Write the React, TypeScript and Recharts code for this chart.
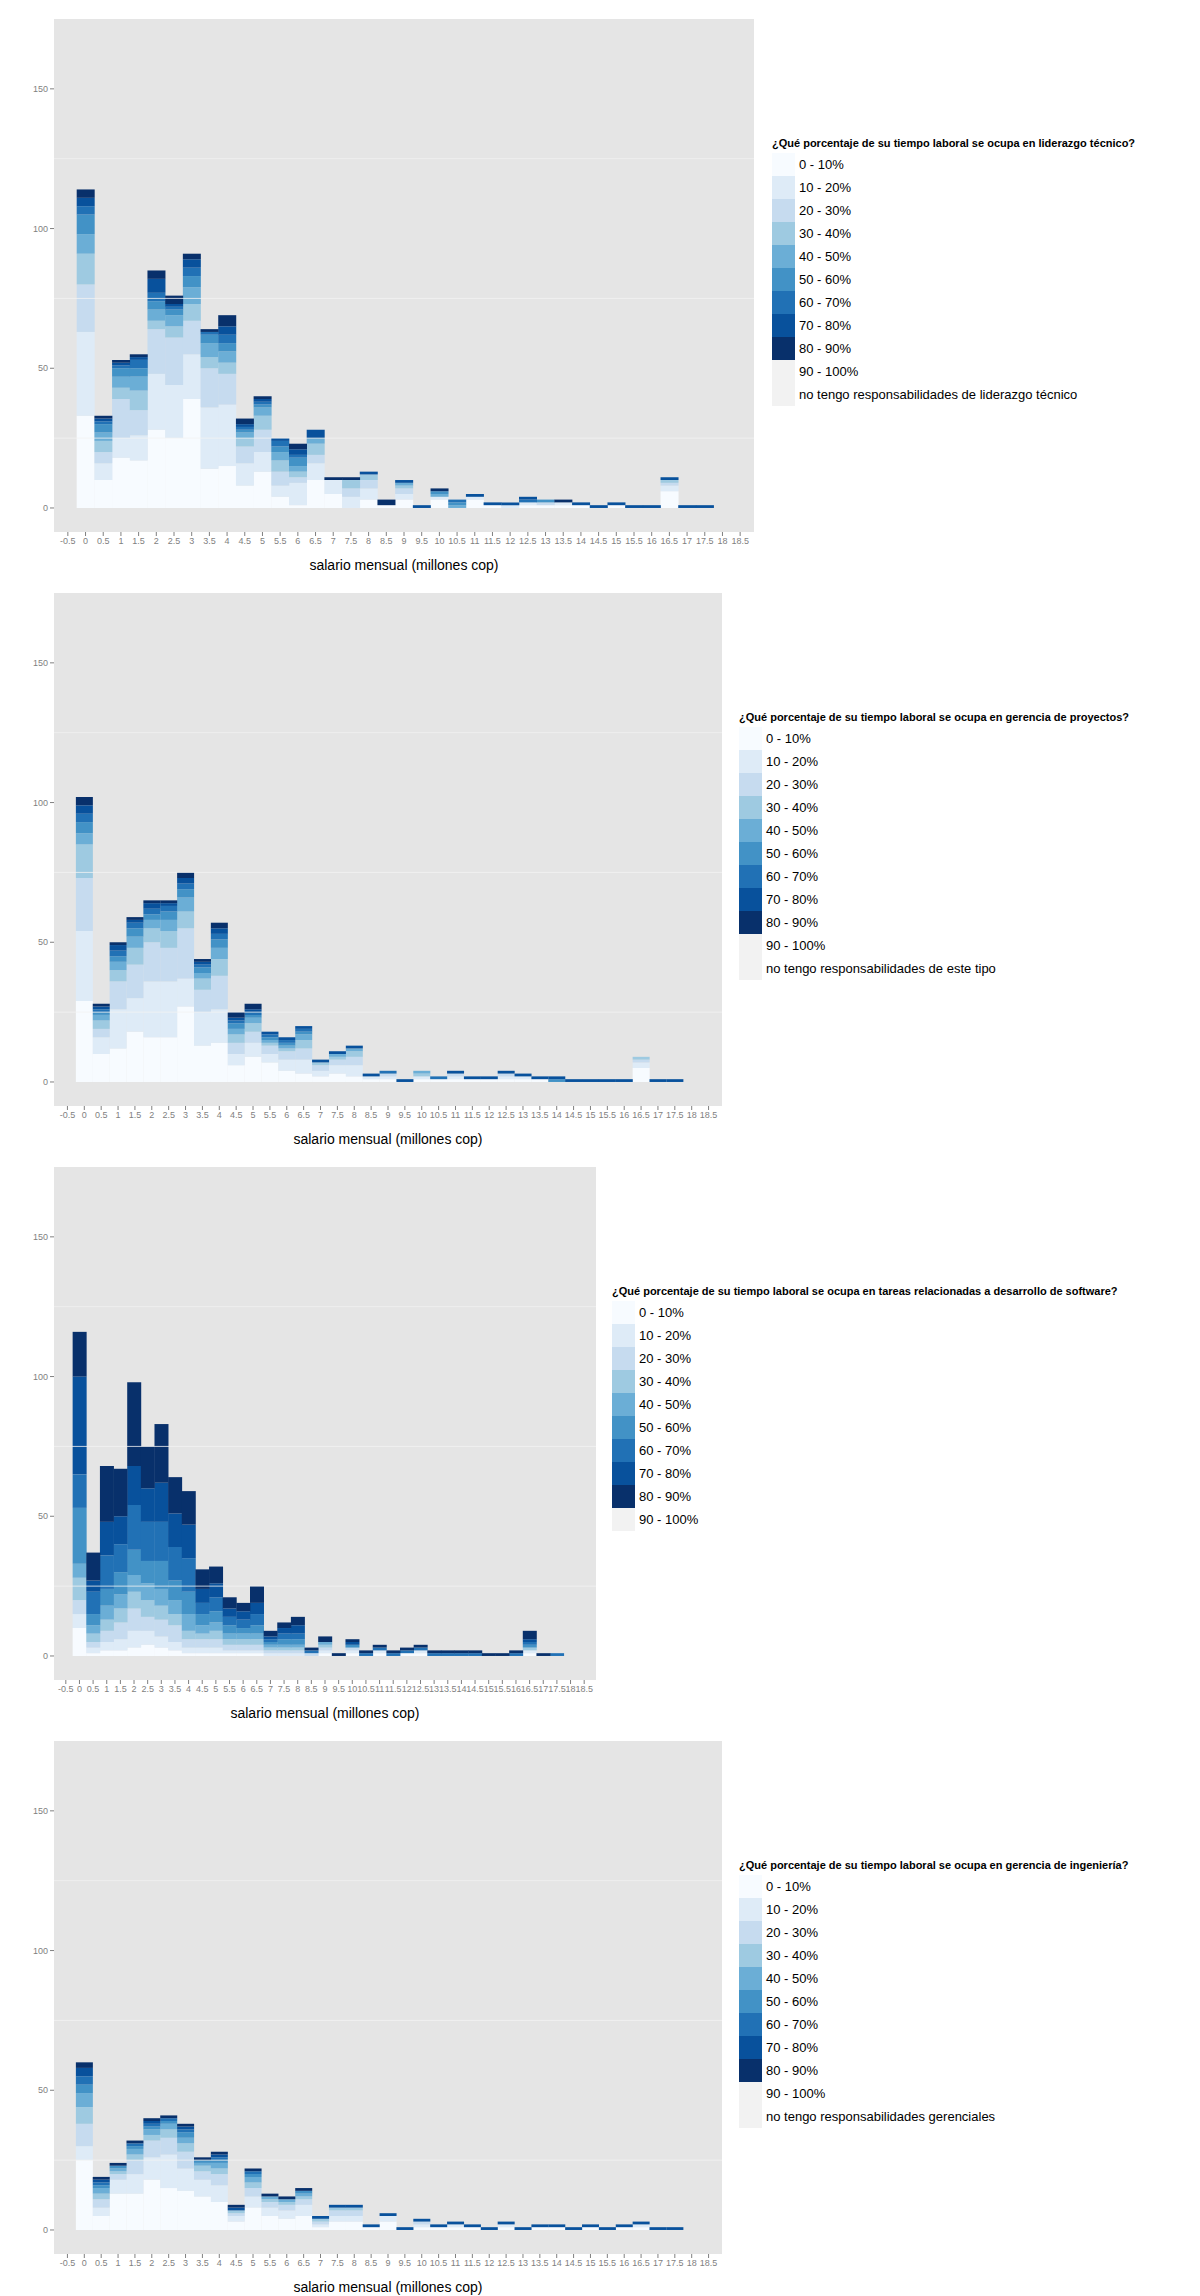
import React from "react";
import { BarChart, Bar, XAxis, YAxis, CartesianGrid, ReferenceLine } from "recharts";

const salaryBins = [
  "-0.5", "0", "0.5", "1", "1.5", "2", "2.5", "3", "3.5", "4", "4.5", "5", "5.5", "6", "6.5", "7", "7.5",
  "8", "8.5", "9", "9.5", "10", "10.5", "11", "11.5", "12", "12.5", "13", "13.5", "14", "14.5", "15",
  "15.5", "16", "16.5", "17", "17.5", "18", "18.5",
];

const levels = ["0 - 10%", "10 - 20%", "20 - 30%", "30 - 40%", "40 - 50%", "50 - 60%", "60 - 70%", "70 - 80%", "80 - 90%", "90 - 100%"];
const blues = ["#F7FBFF", "#DEEBF7", "#C6DBEF", "#9ECAE1", "#6BAED6", "#4292C6", "#2171B5", "#08519C", "#08306B", "#F2F2F2"];

// counts per salary bin, stacked by level (0-10% ... 80-90%)
const liderazgo: Record<string, number[]> = {
  "0": [33, 30, 17, 11, 7, 7, 3, 3, 3],
  "0.5": [10, 6, 4, 4, 3, 3, 1, 1, 1],
  "1": [18, 7, 14, 4, 4, 3, 1, 1, 1],
  "1.5": [17, 9, 9, 7, 5, 3, 3, 1, 1],
  "2": [28, 20, 16, 3, 4, 3, 3, 5, 3],
  "2.5": [25, 19, 17, 4, 4, 2, 1, 1, 3],
  "3": [39, 16, 12, 6, 6, 4, 3, 3, 2],
  "3.5": [14, 22, 14, 4, 5, 3, 1, 0, 1],
  "4": [15, 22, 11, 4, 4, 3, 3, 3, 4],
  "4.5": [8, 8, 6, 3, 2, 1, 1, 1, 2],
  "5": [13, 7, 8, 5, 3, 1, 1, 1, 1],
  "5.5": [4, 4, 5, 4, 3, 2, 2, 1, 0],
  "6": [1, 8, 2, 2, 2, 3, 1, 2, 2],
  "6.5": [10, 6, 3, 4, 2, 0, 0, 3, 0],
  "7": [5, 5, 0, 0, 0, 0, 0, 0, 1],
  "7.5": [0, 4, 3, 3, 0, 0, 0, 0, 1],
  "8": [3, 4, 3, 2, 0, 0, 0, 1, 0],
  "8.5": [1, 0, 0, 0, 0, 0, 0, 0, 2],
  "9": [3, 2, 2, 1, 1, 0, 0, 1, 0],
  "9.5": [0, 0, 0, 0, 0, 0, 0, 1, 0],
  "10": [3, 1, 0, 0, 1, 1, 0, 0, 1],
  "10.5": [0, 0, 0, 0, 1, 1, 1, 0, 0],
  "11": [3, 1, 0, 0, 0, 0, 0, 1, 0],
  "11.5": [1, 0, 0, 0, 0, 0, 0, 1, 0],
  "12": [0, 1, 0, 0, 0, 0, 0, 1, 0],
  "12.5": [1, 1, 0, 0, 0, 0, 1, 1, 0],
  "13": [1, 0, 1, 0, 0, 1, 0, 0, 0],
  "13.5": [1, 1, 0, 0, 0, 0, 0, 0, 1],
  "14": [1, 0, 0, 0, 0, 0, 0, 1, 0],
  "14.5": [0, 0, 0, 0, 0, 0, 0, 1, 0],
  "15": [1, 0, 0, 0, 0, 0, 0, 1, 0],
  "15.5": [0, 0, 0, 0, 0, 0, 0, 1, 0],
  "16": [0, 0, 0, 0, 0, 0, 0, 1, 0],
  "16.5": [6, 2, 1, 1, 0, 0, 0, 1, 0],
  "17": [0, 0, 0, 0, 0, 0, 0, 1, 0],
  "17.5": [0, 0, 0, 0, 0, 0, 0, 1, 0],
};

const proyectos: Record<string, number[]> = {
  "0": [29, 25, 19, 12, 4, 4, 3, 3, 3],
  "0.5": [10, 6, 3, 3, 2, 1, 1, 1, 1],
  "1": [12, 14, 10, 4, 3, 2, 2, 2, 1],
  "1.5": [18, 12, 12, 6, 4, 3, 2, 1, 1],
  "2": [16, 20, 14, 5, 3, 2, 2, 2, 1],
  "2.5": [16, 20, 12, 6, 4, 3, 2, 1, 1],
  "3": [27, 10, 18, 6, 5, 3, 2, 2, 2],
  "3.5": [13, 12, 8, 4, 2, 2, 1, 1, 1],
  "4": [14, 12, 12, 6, 4, 3, 2, 2, 2],
  "4.5": [6, 4, 4, 3, 2, 2, 1, 1, 2],
  "5": [9, 5, 4, 3, 2, 1, 1, 1, 2],
  "5.5": [7, 3, 3, 1, 1, 1, 1, 1, 0],
  "6": [4, 4, 3, 1, 1, 1, 1, 1, 0],
  "6.5": [3, 5, 4, 3, 2, 1, 1, 1, 0],
  "7": [2, 2, 2, 1, 0, 0, 0, 1, 0],
  "7.5": [3, 3, 2, 1, 1, 0, 0, 1, 0],
  "8": [2, 4, 3, 2, 1, 0, 0, 1, 0],
  "8.5": [1, 1, 0, 0, 0, 0, 0, 1, 0],
  "9": [1, 1, 1, 0, 0, 0, 1, 0, 0],
  "9.5": [0, 0, 0, 0, 0, 0, 0, 1, 0],
  "10": [1, 1, 0, 1, 1, 0, 0, 0, 0],
  "10.5": [1, 0, 0, 0, 0, 0, 1, 0, 0],
  "11": [1, 1, 1, 0, 0, 0, 0, 1, 0],
  "11.5": [1, 0, 0, 0, 0, 0, 0, 1, 0],
  "12": [1, 0, 0, 0, 0, 0, 0, 1, 0],
  "12.5": [1, 1, 1, 0, 0, 0, 0, 1, 0],
  "13": [1, 1, 0, 0, 0, 0, 0, 1, 0],
  "13.5": [1, 0, 0, 0, 0, 0, 0, 1, 0],
  "14": [0, 0, 0, 0, 0, 1, 0, 1, 0],
  "14.5": [0, 0, 0, 0, 0, 0, 0, 1, 0],
  "15": [0, 0, 0, 0, 0, 0, 0, 1, 0],
  "15.5": [0, 0, 0, 0, 0, 0, 0, 1, 0],
  "16": [0, 0, 0, 0, 0, 0, 0, 1, 0],
  "16.5": [5, 2, 1, 1, 0, 0, 0, 0, 0],
  "17": [0, 0, 0, 0, 0, 0, 0, 1, 0],
  "17.5": [0, 0, 0, 0, 0, 0, 0, 1, 0],
};

const software: Record<string, number[]> = {
  "0": [10, 5, 5, 8, 5, 20, 12, 35, 16],
  "0.5": [1, 2, 2, 3, 3, 4, 8, 4, 10],
  "1": [2, 3, 4, 4, 5, 6, 12, 12, 20],
  "1.5": [2, 4, 6, 5, 5, 8, 10, 10, 17],
  "2": [3, 6, 8, 6, 6, 9, 16, 14, 30],
  "2.5": [4, 5, 5, 6, 6, 8, 14, 12, 15],
  "3": [3, 4, 6, 5, 6, 10, 14, 14, 21],
  "3.5": [2, 3, 6, 4, 5, 7, 12, 12, 13],
  "4": [1, 2, 3, 3, 6, 8, 12, 12, 12],
  "4.5": [1, 2, 3, 2, 3, 4, 4, 5, 7],
  "5": [1, 2, 3, 3, 3, 4, 5, 5, 6],
  "5.5": [1, 1, 2, 2, 2, 3, 3, 3, 4],
  "6": [1, 1, 2, 2, 2, 2, 3, 3, 3],
  "6.5": [1, 1, 2, 2, 2, 3, 4, 4, 6],
  "7": [0, 1, 1, 1, 1, 1, 1, 1, 2],
  "7.5": [0, 1, 1, 1, 1, 2, 2, 2, 2],
  "8": [0, 1, 1, 1, 1, 2, 2, 3, 3],
  "8.5": [0, 0, 1, 0, 0, 0, 1, 0, 1],
  "9": [1, 1, 1, 1, 1, 0, 0, 0, 2],
  "9.5": [0, 0, 0, 0, 0, 0, 0, 0, 1],
  "10": [1, 1, 1, 0, 0, 1, 0, 1, 1],
  "10.5": [0, 0, 0, 0, 0, 0, 1, 0, 1],
  "11": [1, 1, 0, 0, 0, 0, 1, 0, 1],
  "11.5": [0, 0, 0, 0, 0, 0, 1, 0, 1],
  "12": [1, 0, 0, 0, 0, 0, 1, 0, 1],
  "12.5": [1, 1, 0, 0, 0, 0, 1, 0, 1],
  "13": [0, 0, 0, 0, 0, 0, 1, 0, 1],
  "13.5": [0, 0, 0, 0, 0, 0, 1, 0, 1],
  "14": [0, 0, 0, 0, 0, 0, 1, 0, 1],
  "14.5": [0, 0, 0, 0, 0, 0, 1, 0, 1],
  "15": [0, 0, 0, 0, 0, 0, 0, 0, 1],
  "15.5": [0, 0, 0, 0, 0, 0, 0, 0, 1],
  "16": [0, 0, 0, 0, 0, 0, 1, 0, 1],
  "16.5": [1, 1, 0, 1, 0, 1, 1, 1, 3],
  "17": [0, 0, 0, 0, 0, 0, 0, 0, 1],
  "17.5": [0, 0, 0, 0, 0, 0, 1, 0, 0],
};

const ingenieria: Record<string, number[]> = {
  "0": [25, 5, 8, 6, 5, 3, 3, 3, 2],
  "0.5": [5, 3, 3, 2, 2, 1, 1, 1, 1],
  "1": [13, 5, 2, 1, 1, 1, 0, 0, 1],
  "1.5": [13, 7, 5, 2, 2, 1, 1, 0, 1],
  "2": [18, 8, 6, 2, 2, 1, 1, 1, 1],
  "2.5": [15, 12, 6, 3, 2, 1, 1, 0, 1],
  "3": [14, 8, 6, 3, 2, 2, 1, 1, 1],
  "3.5": [12, 6, 3, 2, 1, 1, 0, 0, 1],
  "4": [10, 6, 4, 2, 2, 1, 1, 1, 1],
  "4.5": [3, 2, 1, 1, 0, 0, 0, 1, 1],
  "5": [8, 4, 3, 2, 2, 1, 1, 0, 1],
  "5.5": [5, 3, 2, 1, 1, 0, 0, 0, 1],
  "6": [4, 3, 2, 1, 1, 0, 0, 0, 1],
  "6.5": [5, 4, 2, 1, 1, 1, 0, 0, 1],
  "7": [1, 1, 1, 1, 0, 0, 0, 1, 0],
  "7.5": [3, 2, 2, 1, 0, 0, 0, 1, 0],
  "8": [3, 2, 2, 1, 0, 0, 0, 1, 0],
  "8.5": [1, 0, 0, 0, 0, 0, 0, 1, 0],
  "9": [3, 2, 0, 0, 0, 0, 0, 1, 0],
  "9.5": [0, 0, 0, 0, 0, 0, 0, 1, 0],
  "10": [1, 1, 1, 0, 0, 0, 0, 1, 0],
  "10.5": [1, 0, 0, 0, 0, 0, 0, 1, 0],
  "11": [1, 1, 0, 0, 0, 0, 0, 1, 0],
  "11.5": [1, 0, 0, 0, 0, 0, 0, 1, 0],
  "12": [0, 0, 0, 0, 0, 0, 0, 1, 0],
  "12.5": [1, 1, 0, 0, 0, 0, 0, 1, 0],
  "13": [0, 0, 0, 0, 0, 0, 0, 1, 0],
  "13.5": [1, 0, 0, 0, 0, 0, 0, 1, 0],
  "14": [1, 0, 0, 0, 0, 0, 0, 1, 0],
  "14.5": [0, 0, 0, 0, 0, 0, 0, 1, 0],
  "15": [1, 0, 0, 0, 0, 0, 0, 1, 0],
  "15.5": [0, 0, 0, 0, 0, 0, 0, 1, 0],
  "16": [1, 0, 0, 0, 0, 0, 0, 1, 0],
  "16.5": [1, 1, 0, 0, 0, 0, 0, 1, 0],
  "17": [0, 0, 0, 0, 0, 0, 0, 1, 0],
  "17.5": [0, 0, 0, 0, 0, 0, 0, 1, 0],
};

const panels = [
  { data: liderazgo, width: 754, legendX: 772, title: "¿Qué porcentaje de su tiempo laboral se ocupa en liderazgo técnico?", extra: "no tengo responsabilidades de liderazgo técnico" },
  { data: proyectos, width: 722, legendX: 739, title: "¿Qué porcentaje de su tiempo laboral se ocupa en gerencia de proyectos?", extra: "no tengo responsabilidades de este tipo" },
  { data: software, width: 596, legendX: 612, title: "¿Qué porcentaje de su tiempo laboral se ocupa en tareas relacionadas a desarrollo de software?", extra: null },
  { data: ingenieria, width: 722, legendX: 739, title: "¿Qué porcentaje de su tiempo laboral se ocupa en gerencia de ingeniería?", extra: "no tengo responsabilidades gerenciales" },
];

const PANEL_H = 574;
const font = "'Liberation Sans', Arial, sans-serif";

function toRows(counts: Record<string, number[]>) {
  return salaryBins.map((x) => {
    const row: Record<string, number | string> = { x };
    const v = counts[x] || [];
    levels.forEach((_, i) => (row["c" + i] = v[i] || 0));
    return row;
  });
}

function Panel({ p, top }: { p: (typeof panels)[number]; top: number }) {
  const rows = toRows(p.data);
  const items = p.extra ? [...levels, p.extra] : levels;
  const itemColors = p.extra ? [...blues, "#F2F2F2"] : blues;
  return (
    <div style={{ position: "absolute", left: 0, top, width: 1200, height: PANEL_H }}>
      <BarChart width={p.width} height={PANEL_H} data={rows} barCategoryGap={0} margin={{ top: 19, right: 0, bottom: 0, left: 0 }}>
        <rect x={54} y={19} width={p.width - 54} height={513} fill="#E5E5E5" />
        <CartesianGrid stroke="#FFFFFF" strokeWidth={1.4} fill="#E5E5E5" />
        {[25, 75, 125].map((v) => (
          <ReferenceLine key={v} y={v} stroke="#F2F2F2" strokeWidth={0.8} />
        ))}
        <XAxis
          dataKey="x"
          interval={0}
          height={42}
          padding={{ left: 5, right: 5 }}
          tick={{ fontSize: 9, fill: "#7F7F7F", fontFamily: font }}
          tickLine={{ stroke: "#7F7F7F" }}
          tickSize={4}
          axisLine={false}
          label={{ value: "salario mensual (millones cop)", position: "insideBottom", offset: 4, fontSize: 14, fill: "#000", fontFamily: font }}
        />
        <YAxis
          width={54}
          domain={[-8.6, 175]}
          ticks={[0, 50, 100, 150]}
          allowDataOverflow
          tick={{ fontSize: 9, fill: "#7F7F7F", fontFamily: font }}
          tickLine={{ stroke: "#7F7F7F" }}
          tickSize={4}
          axisLine={false}
        />
        {levels.map((l, i) => (
          <Bar key={l} dataKey={"c" + i} stackId="s" fill={blues[i]} isAnimationActive={false} />
        ))}
      </BarChart>
      <div style={{ position: "absolute", left: p.legendX, top: 137, fontFamily: font }}>
        <div style={{ fontSize: 11, fontWeight: "bold", marginBottom: 4 }}>{p.title}</div>
        {items.map((it, i) => (
          <div key={it} style={{ display: "flex", alignItems: "center", height: 23 }}>
            <div style={{ width: 23, height: 23, background: itemColors[i] }} />
            <span style={{ fontSize: 13, marginLeft: 4 }}>{it}</span>
          </div>
        ))}
      </div>
    </div>
  );
}

export default function App() {
  return (
    <div style={{ position: "absolute", left: 0, top: 0, width: 1200, height: 2296, background: "#fff" }}>
      {panels.map((p, i) => (
        <Panel key={i} p={p} top={i * PANEL_H} />
      ))}
    </div>
  );
}
